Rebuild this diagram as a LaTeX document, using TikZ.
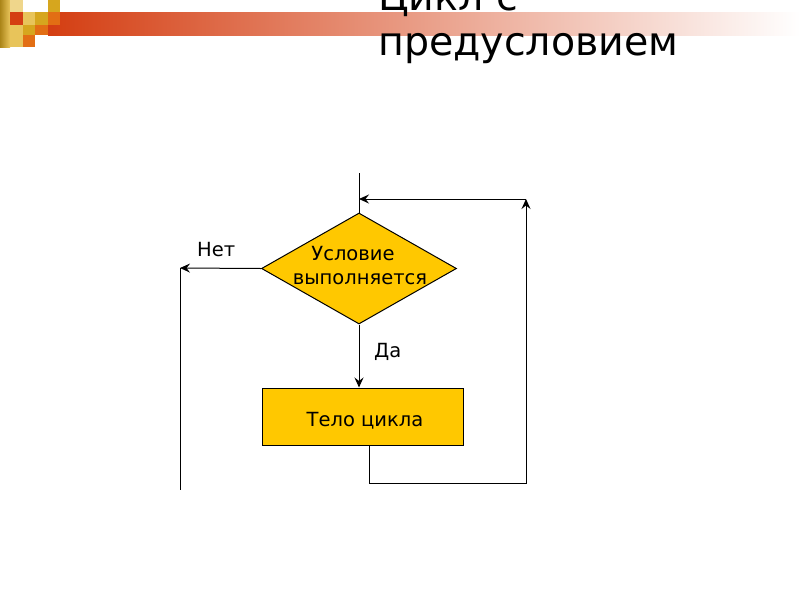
\documentclass[tikz,border=0pt]{standalone}
\usepackage{fontspec}
\setmainfont{DejaVu Sans}
\usetikzlibrary{shapes.geometric,arrows.meta}
\definecolor{gold}{RGB}{255,200,0}
\definecolor{barred}{RGB}{212,62,18}
\definecolor{sqgold}{RGB}{214,166,30}
\definecolor{sqlight}{RGB}{232,196,90}
\definecolor{sqorange}{RGB}{226,110,20}
\tikzset{
  flow/.style={draw=black, line width=1pt, fill=gold},
  conn/.style={draw=black, line width=1pt},
  arr/.style={conn, -{Stealth[length=10pt,width=9pt,inset=3.5pt]}},
  lbl/.style={font=\fontsize{19.5}{22}\selectfont, inner sep=0pt},
  ttl/.style={font=\fontsize{39.5}{48}\selectfont, inner sep=0pt, anchor=base west},
}
\begin{document}
\begin{tikzpicture}[x=1pt,y=-1pt]
\useasboundingbox (0,0) rectangle (800,600);
\clip (0,0) rectangle (800,600);
\fill[white] (0,0) rectangle (800,600);
% header bar
\shade[left color=barred, right color=white] (48,12) rectangle (800,35);
% squares
\shade[left color=sqgold!80!black, right color=sqlight] (0,0) rectangle (10,47);
\fill[sqlight!70!white] (10,0) rectangle (23,12);
\fill[barred] (10,12) rectangle (23,25);
\fill[sqlight] (10,25) rectangle (23,47);
\fill[sqlight] (23,12) rectangle (35,25);
\fill[sqgold] (23,25) rectangle (35,35);
\fill[sqorange] (23,35) rectangle (35,47);
\fill[sqgold] (35,12) rectangle (48,25);
\fill[sqorange] (35,25) rectangle (48,35);
\fill[sqgold] (48,0) rectangle (60,12);
\fill[sqorange] (48,12) rectangle (60,25);
% title
\node[ttl] (t1) at (378,10) {Цикл с};
\node[ttl] (t2) at (378,55) {предусловием};
% flowchart
\node[flow, shape=diamond, minimum width=195pt, minimum height=111pt, inner sep=0pt] (d) at (359,268.5) {};
\node[lbl, anchor=base] (dt1) at (353,260) {Условие};
\node[lbl, anchor=base] (dt2) at (360,284) {выполняется};
\node[flow, minimum width=201pt, minimum height=57pt, inner sep=0pt] (b) at (362.5,416.5) {};
\node[lbl, anchor=base] (bt) at (365,426) {Тело цикла};
\node[lbl, anchor=base west] (no) at (197,256) {Нет};
\node[lbl, anchor=base west] (yes) at (374,357) {Да};
\coordinate (top) at (359,173);
\coordinate (nl) at (180,268);
\coordinate (nb) at (180,490);
\coordinate (l0) at (369,445);
\coordinate (l1) at (369,483);
\coordinate (l2) at (526,483);
\coordinate (l3) at (526,199);
\coordinate (l4) at (359,199);
\draw[conn] (top) -- (d.north);
\draw[arr] (d.west) -- (nl);
\draw[conn] (nl) -- (nb);
\draw[arr] (d.south) -- (d.south |- b.north);
\draw[arr] (l0) -- (l1) -- (l2) -- (l3);
\draw[arr] (l3) -- (l4);
\end{tikzpicture}
\end{document}
